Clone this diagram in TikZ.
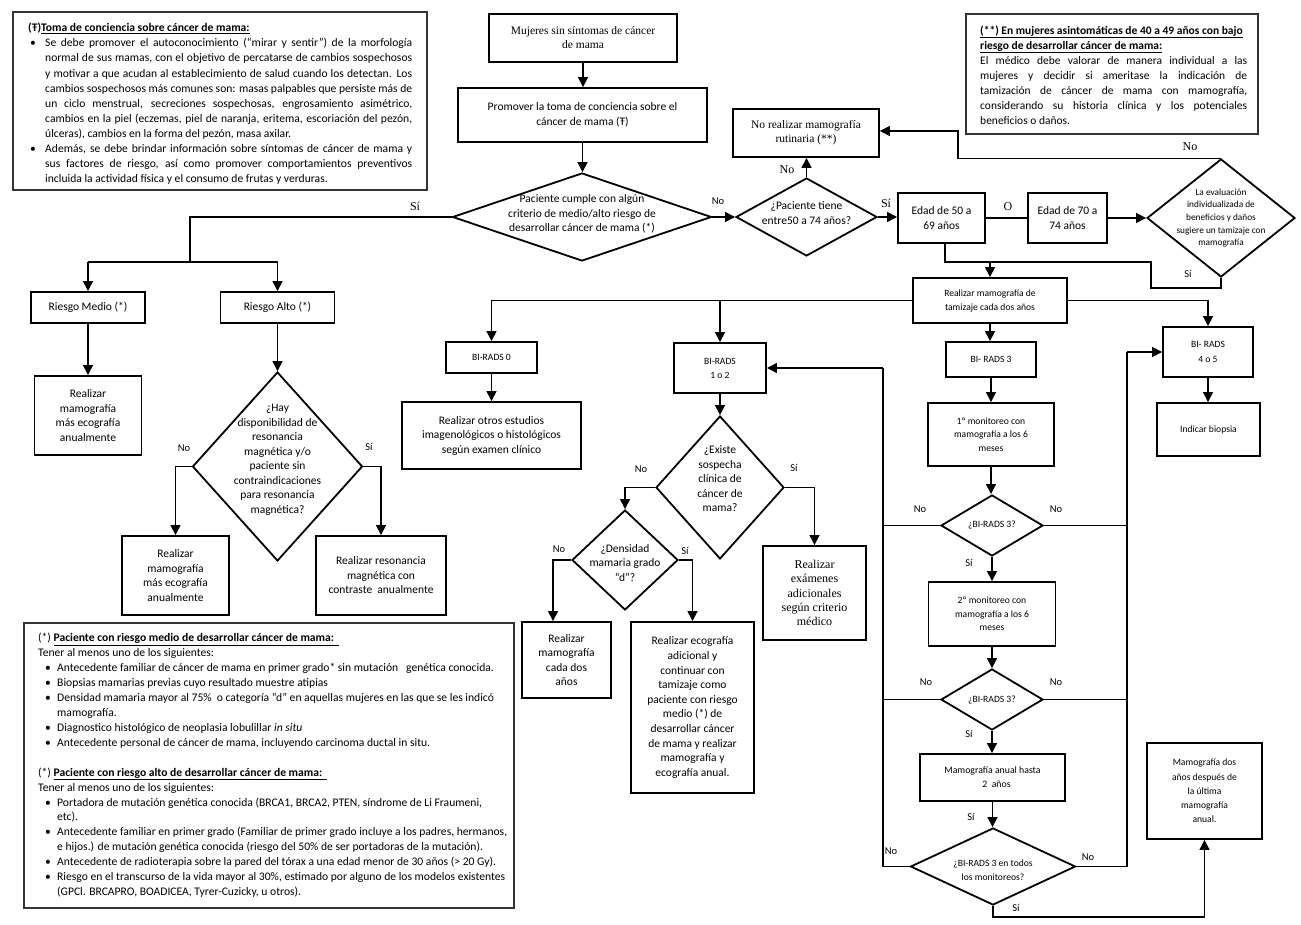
\documentclass[tikz,border=0pt]{standalone}
\usepackage{fontspec}
\setmainfont{Carlito}
\newfontfamily\tnr{Liberation Serif}
\usetikzlibrary{arrows.meta,shapes.geometric,calc}
\begin{document}
\begin{tikzpicture}[x=1pt,y=-1pt,
  box/.style={draw, line width=1.8pt, inner sep=0pt, align=center},
  dia/.style={draw, diamond, line width=1.8pt, inner sep=0pt},
  notebox/.style={draw=black!80, line width=1.3pt, inner sep=0pt},
  conn/.style={line width=1.1pt},
  arr/.style={line width=1.1pt, -{Triangle[length=10pt,width=10pt]}},
  lbl/.style={inner sep=0pt, font=\fontsize{10.5}{12}\selectfont},
  tlbl/.style={inner sep=0pt, font=\tnr\fontsize{12}{14}\selectfont},
  fa/.style={font=\fontsize{11.5}{14.5}\selectfont},
  fb/.style={font=\fontsize{11.5}{14.5}\selectfont},
  fs/.style={font=\fontsize{9.6}{14}\selectfont},
  ft/.style={font=\tnr\fontsize{11.5}{14}\selectfont},
]
\useasboundingbox (0,0) rectangle (1301,925);

% ---------- notes ----------
\node[notebox, minimum width=414pt, minimum height=178pt] (n1) at (220,101) {};
\node[anchor=north west, inner sep=0pt, align=left, font=\fontsize{11.6}{15.1}\selectfont] (n1t) at (28,21) {\strut\textbf{(Ŧ)\underline{Toma de conciencia sobre cáncer de mama:}}\\
\hspace*{2pt}\makebox[15pt][l]{•}\makebox[367pt][s]{Se debe promover el autoconocimiento (“mirar y sentir”) de la morfología}\\
\hspace*{17pt}\makebox[367pt][s]{normal de sus mamas, con el objetivo de percatarse de cambios sospechosos}\\
\hspace*{17pt}\makebox[367pt][s]{y motivar a que acudan al establecimiento de salud cuando los detectan. Los}\\
\hspace*{17pt}\makebox[367pt][s]{cambios sospechosos más comunes son: masas palpables que persiste más de}\\
\hspace*{17pt}\makebox[367pt][s]{un ciclo menstrual, secreciones sospechosas, engrosamiento asimétrico,}\\
\hspace*{17pt}\makebox[367pt][s]{cambios en la piel (eczemas, piel de naranja, eritema, escoriación del pezón,}\\
\hspace*{17pt}úlceras), cambios en la forma del pezón, masa axilar.\\
\hspace*{2pt}\makebox[15pt][l]{•}\makebox[367pt][s]{Además, se debe brindar información sobre síntomas de cáncer de mama y}\\
\hspace*{17pt}\makebox[367pt][s]{sus factores de riesgo, así como promover comportamientos preventivos}\\
\hspace*{17pt}incluida la actividad física y el consumo de frutas y verduras.};

\node[notebox, minimum width=292pt, minimum height=120pt] (n2) at (1112,74) {};
\node[anchor=north west, inner sep=0pt, align=left, font=\fontsize{11.5}{15}\selectfont] (n2t) at (980,23.5) {\strut\textbf{\underline{(**) En mujeres asintomáticas de 40 a 49 años con bajo}}\\
\textbf{\underline{riesgo de desarrollar cáncer de mama:}}\\
\makebox[267pt][s]{El médico debe valorar de manera individual a las}\\
\makebox[267pt][s]{mujeres y decidir si ameritase la indicación de}\\
\makebox[267pt][s]{tamización de cáncer de mama con mamografía,}\\
\makebox[267pt][s]{considerando su historia clínica y los potenciales}\\
beneficios o daños.};

\node[notebox, minimum width=490pt, minimum height=285pt] (n3) at (269,765.5) {};
\node[anchor=north west, inner sep=0pt, align=left, font=\fontsize{11.6}{14.94}\selectfont] (n3t) at (38,631) {\strut(*) \textbf{\underline{Paciente con riesgo medio de desarrollar cáncer de mama:~~}}\\
Tener al menos uno de los siguientes:\\
\hspace*{7pt}\makebox[12pt][l]{•}Antecedente familiar de cáncer de mama en primer grado* sin mutación \ \ genética conocida.\\
\hspace*{7pt}\makebox[12pt][l]{•}Biopsias mamarias previas cuyo resultado muestre atipias\\
\hspace*{7pt}\makebox[12pt][l]{•}Densidad mamaria mayor al 75\% \ o categoría “d” en aquellas mujeres en las que se les indicó\\
\hspace*{19pt}mamografía.\\
\hspace*{7pt}\makebox[12pt][l]{•}Diagnostico histológico de neoplasia lobulillar \textit{in situ}\\
\hspace*{7pt}\makebox[12pt][l]{•}Antecedente personal de cáncer de mama, incluyendo carcinoma ductal in situ.\\
\strut\\
(*) \textbf{\underline{Paciente con riesgo alto de desarrollar cáncer de mama:~~}}\\
Tener al menos uno de los siguientes:\\
\hspace*{7pt}\makebox[12pt][l]{•}Portadora de mutación genética conocida (BRCA1, BRCA2, PTEN, síndrome de Li Fraumeni,\\
\hspace*{19pt}etc).\\
\hspace*{7pt}\makebox[12pt][l]{•}Antecedente familiar en primer grado (Familiar de primer grado incluye a los padres, hermanos,\\
\hspace*{19pt}e hijos.) de mutación genética conocida (riesgo del 50\% de ser portadoras de la mutación).\\
\hspace*{7pt}\makebox[12pt][l]{•}Antecedente de radioterapia sobre la pared del tórax a una edad menor de 30 años (> 20 Gy).\\
\hspace*{7pt}\makebox[12pt][l]{•}Riesgo en el transcurso de la vida mayor al 30\%, estimado por alguno de los modelos existentes\\
\hspace*{19pt}(GPCl. BRCAPRO, BOADICEA, Tyrer-Cuzicky, u otros).};

% ---------- top chain ----------
\node[box, ft, minimum width=188pt, minimum height=48pt] (m1) at (583,38) {Mujeres sin síntomas de cáncer\\de mama};
\node[box, fa, minimum width=249pt, minimum height=54pt] (p1) at (582.5,115) {Promover la toma de conciencia sobre el\\cáncer de mama (Ŧ)};
\node[dia, minimum width=259pt, minimum height=88pt] (d1) at (582,217) {};
\node[fa, align=center, inner sep=0pt] (d1t) at (582,214) {Paciente cumple con algún\\criterio de medio/alto riesgo de\\desarrollar cáncer de mama (*)};
\node[dia, minimum width=141pt, minimum height=78pt] (d2) at (806.5,217) {};
\node[fa, align=center, inner sep=0pt] (d2t) at (806.5,213) {¿Paciente tiene\\entre50 a 74 años?};
\node[box, ft, minimum width=146pt, minimum height=48pt] (nr) at (806,133) {No realizar mamografía\\rutinaria (**)};
\node[box, fb, minimum width=87pt, minimum height=50pt] (e50) at (941.5,218) {Edad de 50 a\\69 años};
\node[box, fb, minimum width=79pt, minimum height=50pt] (e70) at (1067.5,218) {Edad de 70 a\\74 años};
\node[dia, minimum width=148pt, minimum height=118pt] (d3) at (1221,218) {};
\node[align=center, inner sep=0pt, font=\fontsize{9.3}{12.7}\selectfont] (d3t) at (1221,218) {La evaluación\\individualizada de\\beneficios y daños\\sugiere un tamizaje con\\mamografía};

% ---------- left branch ----------
\node[box, fa, minimum width=114pt, minimum height=31pt] (rmed) at (88,307.5) {Riesgo Medio (*)};
\node[box, fa, minimum width=114pt, minimum height=31pt] (ralto) at (277.5,307.5) {Riesgo Alto (*)};
\node[box, fb, minimum width=107pt, minimum height=79pt, font=\fontsize{11.5}{14.4}\selectfont] (rmb1) at (88,415.5) {Realizar\\mamografía\\más ecografía\\anualmente};
\node[dia, minimum width=170pt, minimum height=189pt] (d6) at (277.5,466.5) {};
\node[fa, align=center, inner sep=0pt] (d6t) at (277.5,460) {¿Hay\\disponibilidad de\\resonancia\\magnética y/o\\paciente sin\\contraindicaciones\\para resonancia\\magnética?};
\node[box, minimum width=107pt, minimum height=79pt, font=\fontsize{11.5}{14.4}\selectfont] (rmb2) at (175.5,575.5) {Realizar\\mamografía\\más ecografía\\anualmente};
\node[box, fb, minimum width=130pt, minimum height=79pt] (rrm) at (381,575.5) {Realizar resonancia\\magnética con\\contraste \ anualmente};

% ---------- middle ----------
\node[box, fs, minimum width=154pt, minimum height=45pt] (rm2) at (990,300.5) {Realizar mamografía de\\tamizaje cada dos años};
\node[box, fs, minimum width=91pt, minimum height=31pt] (b0) at (491.5,357.5) {BI-RADS 0};
\node[box, fb, minimum width=179pt, minimum height=67pt] (roe) at (491.5,435.5) {Realizar otros estudios\\imagenológicos o histológicos\\según examen clínico};
\node[box, fs, minimum width=92pt, minimum height=50pt] (b12) at (720,368) {BI-RADS\\1 o 2};
\node[dia, minimum width=128pt, minimum height=143pt] (d4) at (720,487.5) {};
\node[fb, align=center, inner sep=0pt] (d4t) at (720,479) {¿Existe\\sospecha\\clínica de\\cáncer de\\mama?};
\node[box, minimum width=103pt, minimum height=94pt, font=\tnr\fontsize{12}{14.3}\selectfont] (rex) at (814.5,593) {Realizar\\exámenes\\adicionales\\según criterio\\médico};
\node[dia, minimum width=106pt, minimum height=100pt] (d5) at (625,560) {};
\node[fa, align=center, inner sep=0pt] (d5t) at (625,563) {¿Densidad\\mamaria grado\\“d”?};
\node[box, minimum width=89pt, minimum height=76pt, font=\fontsize{11.5}{14.3}\selectfont] (rmc) at (566.5,660) {Realizar\\mamografía\\cada dos\\años};
\node[box, minimum width=123pt, minimum height=171pt, font=\fontsize{11.5}{14.6}\selectfont] (rec) at (692.5,707.5) {Realizar ecografía\\adicional y\\continuar con\\tamizaje como\\paciente con riesgo\\medio (*) de\\desarrollar cáncer\\de mama y realizar\\mamografía y\\ecografía anual.};

% ---------- right chain ----------
\node[box, fs, minimum width=90pt, minimum height=35pt] (b3) at (991,359.5) {BI- RADS 3};
\node[box, minimum width=126pt, minimum height=63pt, font=\fontsize{9.6}{13.5}\selectfont] (m1m) at (991,434.5) {1º monitoreo con\\mamografía a los 6\\meses};
\node[dia, minimum width=102pt, minimum height=61pt] (d7) at (992,525.5) {};
\node[fs, inner sep=0pt] (d7t) at (992,525.5) {¿BI-RADS 3?};
\node[box, minimum width=127pt, minimum height=64pt, font=\fontsize{9.6}{13.5}\selectfont] (m2m) at (992,614) {2º monitoreo con\\mamografía a los 6\\meses};
\node[dia, minimum width=102pt, minimum height=61pt] (d8) at (992,699.5) {};
\node[fs, inner sep=0pt] (d8t) at (992,700) {¿BI-RADS 3?};
\node[box, minimum width=145pt, minimum height=47pt, font=\fontsize{9.8}{14}\selectfont] (man) at (992.5,777.5) {Mamografía anual hasta\\\hspace*{8pt}2 \ años};
\node[dia, minimum width=165pt, minimum height=77pt] (d9) at (993,866.5) {};
\node[fs, align=center, inner sep=0pt] (d9t) at (993,870) {¿BI-RADS 3 en todos\\los monitoreos?};
\node[box, minimum width=115pt, minimum height=96pt, font=\fontsize{9.6}{14.3}\selectfont] (m2a) at (1204.5,791) {Mamografía dos\\años después de\\la última\\mamografía\\anual.};
\node[box, minimum width=90pt, minimum height=50pt, font=\fontsize{9.6}{15}\selectfont] (b45) at (1208,352) {BI- RADS\\4 o 5};
\node[box, fs, minimum width=103pt, minimum height=53pt] (ib) at (1208.5,429.5) {Indicar biopsia};

% ---------- connectors ----------
\draw[arr] (m1.south) -- (m1.south |- p1.north);
\draw[arr] (p1.south) -- (p1.south |- d1.north);
\draw[arr] (d1.east) -- (d2.west);
\draw[arr] (d2.north) -- (d2.north |- nr.south);
\draw[arr] (d2.east) -- (d2.east -| e50.west);
\draw[conn] (e50.east) -- (e50.east -| e70.west);
\draw[arr] (e70.east) -- (e70.east -| d3.west);
\coordinate (c1) at (958,131);
\draw[arr] (d3.north) -| (c1) -- (c1 -| nr.east);
\coordinate (s1) at (1221,288);
\coordinate (s2) at (1151,288);
\coordinate (s3) at (1151,262);
\coordinate (s4) at (945,262);
\draw[conn] (d3.south) -- (s1) -- (s2) -- (s3) -- (s4) -- (s4 |- e50.south);
\draw[arr] (rm2.north |- s3) -- (rm2.north);

\coordinate (l1) at (190,217);
\coordinate (l2) at (190,262);
\draw[conn] (d1.west) -- (l1) -- (l2);
\draw[conn] (rmed.north |- l2) -- (ralto.north |- l2);
\draw[arr] (rmed.north |- l2) -- (rmed.north);
\draw[arr] (ralto.north |- l2) -- (ralto.north);
\draw[arr] (rmed.south) -- (rmed.south |- rmb1.north);
\draw[arr] (ralto.south) -- (ralto.south |- d6.north);
\draw[arr] (d6.west) -| (rmb2.north);
\draw[arr] (d6.east) -| (rrm.north);

\coordinate (t1) at (491.5,300.5);
\draw[conn] (rm2.west) -- (t1);
\draw[arr] (t1) -- (t1 |- b0.north);
\draw[arr] (b12.north |- t1) -- (b12.north);
\draw[arr] (rm2.east) -| (b45.north);
\draw[arr] (rm2.south) -- (rm2.south |- b3.north);
\draw[arr] (b0.south) -- (b0.south |- roe.north);
\draw[arr] (b12.south) -- (b12.south |- d4.north);
\draw[arr] (d4.west) -| (d5.north);
\draw[arr] (d4.east) -| (rex.north);
\coordinate (k1) at (553,560);
\draw[arr] (d5.west) -- (k1) -- (k1 |- rmc.north);
\draw[arr] (d5.east) -| (rec.north);

\draw[arr] (b3.south) -- (b3.south |- m1m.north);
\draw[arr] (m1m.south) -- (m1m.south |- d7.north);
\draw[arr] (d7.south) -- (d7.south |- m2m.north);
\draw[arr] (m2m.south) -- (m2m.south |- d8.north);
\draw[arr] (d8.south) -- (d8.south |- man.north);
\draw[arr] (man.south) -- (man.south |- d9.north);
\draw[arr] (b45.south) -- (b45.south |- ib.north);

\coordinate (bl) at (883,866.5);
\coordinate (blt) at (883,368);
\draw[conn] (d9.west) -- (bl) -- (blt);
\draw[arr] (blt) -- (b12.east);
\draw[conn] (d7.west) -- (d7.west -| bl);
\draw[conn] (d8.west) -- (d8.west -| bl);
\coordinate (br) at (1127,866.5);
\coordinate (brt) at (1127,352);
\draw[conn] (d9.east) -- (br) -- (brt);
\draw[arr] (brt) -- (b45.west);
\draw[conn] (d7.east) -- (d7.east -| br);
\draw[conn] (d8.east) -- (d8.east -| br);
\coordinate (f1) at (993,917);
\draw[arr] (d9.south) -- (f1) -| (m2a.south);

% ---------- labels ----------
\node[tlbl] (la1) at (415,206) {Sí};
\node[tlbl] (la2) at (787,170) {No};
\node[tlbl] (la3) at (886,203) {Sí};
\node[tlbl] (la4) at (1008,207) {O};
\node[tlbl] (la5) at (1190,147) {No};
\node[lbl] (lb1) at (718,201) {No};
\node[lbl] (lb2) at (1188,274) {Sí};
\node[lbl] (lb3) at (184,448) {No};
\node[lbl] (lb4) at (369,447) {Sí};
\node[lbl] (lb5) at (641,469) {No};
\node[lbl] (lb6) at (794,468) {Sí};
\node[lbl] (lb7) at (559,549) {No};
\node[lbl] (lb8) at (685,551) {Sí};
\node[lbl] (lb9) at (920,509) {No};
\node[lbl] (lb10) at (1056,509) {No};
\node[lbl] (lb11) at (969,563) {Sí};
\node[lbl] (lb12) at (926,682) {No};
\node[lbl] (lb13) at (1056,682) {No};
\node[lbl] (lb14) at (969,734) {Sí};
\node[lbl] (lb15) at (971,817) {Sí};
\node[lbl] (lb16) at (891,851) {No};
\node[lbl] (lb17) at (1088,857) {No};
\node[lbl] (lb18) at (1016,908) {Sí};
\end{tikzpicture}
\end{document}
